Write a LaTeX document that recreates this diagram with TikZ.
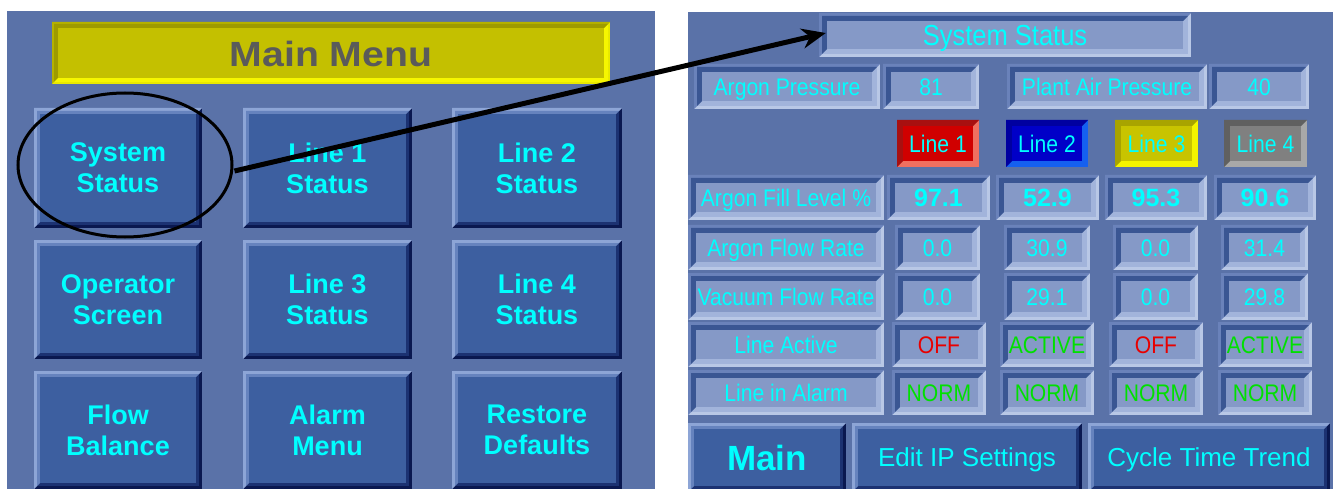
\documentclass[tikz,border=0pt]{standalone}
\usepackage{fontspec}
\setmainfont{Liberation Sans}
\newfontfamily\nrw[FakeStretch=0.88]{Liberation Sans}
\newfontfamily\wde[FakeStretch=1.12]{Liberation Sans}
\usetikzlibrary{shapes.geometric,arrows.meta}
\definecolor{panel}{HTML}{5A72A8}
\definecolor{bf}{HTML}{3D5FA0}
\definecolor{bl1}{HTML}{8DA5D6}
\definecolor{bl2}{HTML}{6683BE}
\definecolor{bd1}{HTML}{0A1850}
\definecolor{bd2}{HTML}{1C3272}
\definecolor{sf}{HTML}{8599C7}
\definecolor{so1}{HTML}{6A82BA}
\definecolor{so2}{HTML}{B9C8E6}
\definecolor{si1}{HTML}{3A5693}
\definecolor{si2}{HTML}{A2B4DB}
\definecolor{yf}{HTML}{C4C000}
\definecolor{yo1}{HTML}{B5B200}
\definecolor{yo2}{HTML}{E8E800}
\definecolor{yi1}{HTML}{9E9B00}
\definecolor{yi2}{HTML}{F6F600}
\definecolor{cyantx}{HTML}{00FFFF}
\definecolor{redtx}{HTML}{E80000}
\definecolor{grntx}{HTML}{00E000}
\definecolor{graytx}{HTML}{5A5A5A}
\definecolor{r1}{HTML}{D00000}\definecolor{r2}{HTML}{A81010}\definecolor{r3}{HTML}{F07060}
\definecolor{u1}{HTML}{0000C8}\definecolor{u2}{HTML}{0000A0}\definecolor{u3}{HTML}{1560F0}
\definecolor{y1}{HTML}{C8C400}\definecolor{y2}{HTML}{A8A400}\definecolor{y3}{HTML}{F4F400}
\definecolor{g1}{HTML}{808080}\definecolor{g2}{HTML}{606060}\definecolor{g3}{HTML}{A8A8A8}
% bevel: x1 y1 x2 y2 width topleft bottomright face
\newcommand\bvl[8]{%
  \fill[#7] ({#1},{#2}) rectangle ({#3},{#4});
  \fill[#6] ({#1},{#2}) -- ({#3},{#2}) -- ({#3-#5},{#2+#5}) -- ({#1+#5},{#2+#5})
     -- ({#1+#5},{#4-#5}) -- ({#1},{#4}) -- cycle;
  \fill[#8] ({#1+#5},{#2+#5}) rectangle ({#3-#5},{#4-#5});}
% raised button: name x1 y1 x2 y2 text style
\newcommand\rais[7]{%
  \bvl{#2}{#3}{#4}{#5}{3}{bl1}{bd1}{bf}%
  \bvl{#2+3}{#3+3}{#4-3}{#5-3}{3}{bl2}{bd2}{bf}%
  \node[#7] (#1) at ({(#2+#4)/2},{(#3+#5)/2}) {#6};}
% sunken box: name x1 y1 x2 y2 text style
\newcommand\sunk[7]{%
  \bvl{#2}{#3}{#4}{#5}{3}{so1}{so2}{sf}%
  \bvl{#2+3}{#3+3}{#4-3}{#5-3}{5}{si1}{si2}{sf}%
  \node[#7] (#1) at ({(#2+#4)/2},{(#3+#5)/2}) {#6};}
% coloured line key: name x1 y1 x2 y2 text face dark light
\newcommand\lkeyb[9]{%
  \bvl{#2}{#3}{#4}{#5}{6}{#8}{#9}{#7}%
  \node[lbl] (#1) at ({(#2+#4)/2},{(#3+#5)/2}) {#6};}
\tikzset{
  lbl/.style={inner sep=0pt, text=cyantx, font=\nrw\fontsize{24}{24}\selectfont,
    text height=17.2pt, text depth=0pt},
  lblr/.style={lbl, text=redtx},
  lblg/.style={lbl, text=grntx},
  ttl/.style={lbl, font=\nrw\fontsize{29}{29}\selectfont, text height=20.8pt},
  valb/.style={inner sep=0pt, text=cyantx, font=\bfseries\fontsize{25}{25}\selectfont,
    text height=18pt, text depth=0pt},
  btn/.style={inner sep=0pt, text=cyantx, align=center,
    font=\bfseries\fontsize{27}{31}\selectfont},
  bot/.style={inner sep=0pt, text=cyantx, font=\fontsize{26}{26}\selectfont,
    text height=18.6pt, text depth=0pt},
  mainb/.style={inner sep=0pt, text=cyantx, font=\bfseries\fontsize{35}{35}\selectfont,
    text height=25pt, text depth=0pt},
  menut/.style={inner sep=0pt, text=graytx, font=\wde\bfseries\fontsize{35}{35}\selectfont,
    text height=25pt, text depth=0pt},
  boxarea/.style={inner sep=0pt, minimum width=372pt, minimum height=44pt},
  mark ring/.style={draw=black, line width=3pt, ellipse, inner sep=0pt},
  pointer/.style={draw=black, line width=5pt, -{Stealth[length=24pt,width=20pt]}}
}
\begin{document}
\begin{tikzpicture}[x=1pt,y=-1pt]
\useasboundingbox (0,0) rectangle (1333,489);
\fill[white] (0,0) rectangle (1333,489);
% ---------------- left panel ----------------
\fill[panel] (7,11) rectangle (655,489);
\bvl{52}{22}{610}{84}{2}{yo1}{yo2}{yf}
\bvl{54}{24}{608}{82}{4}{yi1}{yi2}{yf}
\node[menut] (menu) at (331,54) {Main Menu};
\rais{b11}{34}{108}{202}{228}{System\\Status}{btn}
\rais{b12}{243}{108}{412}{228}{Line 1\\Status}{btn}
\rais{b13}{452}{108}{622}{228}{Line 2\\Status}{btn}
\rais{b21}{34}{240}{202}{359}{Operator\\Screen}{btn}
\rais{b22}{243}{240}{412}{359}{Line 3\\Status}{btn}
\rais{b23}{452}{240}{622}{359}{Line 4\\Status}{btn}
\rais{b31}{34}{371}{202}{489}{Flow\\Balance}{btn}
\rais{b32}{243}{371}{412}{489}{Alarm\\Menu}{btn}
\rais{b33}{452}{371}{622}{489}{Restore\\Defaults}{btn}
% ---------------- right panel ----------------
\fill[panel] (688,12) rectangle (1333,489);
\sunk{sstitle}{819}{13}{1191}{57}{System Status}{ttl}
\node[boxarea] (ssbox) at (1005,35) {};
\sunk{apl}{694}{64}{880}{109}{Argon Pressure}{lbl}
\sunk{apv}{883}{64}{979}{109}{81}{lbl}
\sunk{ppl}{1007}{64}{1207}{109}{Plant Air Pressure}{lbl}
\sunk{ppv}{1209}{64}{1309}{109}{40}{lbl}
\lkeyb{k1}{897}{120}{979}{167}{Line 1}{r1}{r2}{r3}
\lkeyb{k2}{1006}{120}{1088}{167}{Line 2}{u1}{u2}{u3}
\lkeyb{k3}{1115}{120}{1198}{167}{Line 3}{y1}{y2}{y3}
\lkeyb{k4}{1224}{120}{1307}{167}{Line 4}{g1}{g2}{g3}
% fill level
\sunk{fll}{688}{175}{884}{220}{Argon Fill Level \%}{lbl}
\sunk{fl1}{887}{175}{990}{220}{97.1}{valb}
\sunk{fl2}{996}{175}{1099}{220}{52.9}{valb}
\sunk{fl3}{1105}{175}{1207}{220}{95.3}{valb}
\sunk{fl4}{1214}{175}{1316}{220}{90.6}{valb}
% argon flow
\sunk{afl}{688}{225}{884}{270}{Argon Flow Rate}{lbl}
\sunk{af1}{895}{225}{980}{270}{0.0}{lbl}
\sunk{af2}{1004}{225}{1090}{270}{30.9}{lbl}
\sunk{af3}{1113}{225}{1198}{270}{0.0}{lbl}
\sunk{af4}{1221}{225}{1308}{270}{31.4}{lbl}
% vacuum flow
\sunk{vfl}{688}{273}{884}{320}{Vacuum Flow Rate}{lbl}
\sunk{vf1}{895}{273}{980}{320}{0.0}{lbl}
\sunk{vf2}{1004}{273}{1090}{320}{29.1}{lbl}
\sunk{vf3}{1113}{273}{1198}{320}{0.0}{lbl}
\sunk{vf4}{1221}{273}{1308}{320}{29.8}{lbl}
% line active
\sunk{lal}{688}{322}{884}{367}{Line Active}{lbl}
\sunk{la1}{892}{322}{986}{367}{OFF}{lblr}
\sunk{la2}{1000}{322}{1094}{367}{ACTIVE}{lblg}
\sunk{la3}{1109}{322}{1203}{367}{OFF}{lblr}
\sunk{la4}{1218}{322}{1312}{367}{ACTIVE}{lblg}
% line in alarm
\sunk{lml}{688}{370}{884}{415}{Line in Alarm}{lbl}
\sunk{lm1}{892}{370}{986}{415}{NORM}{lblg}
\sunk{lm2}{1000}{370}{1094}{415}{NORM}{lblg}
\sunk{lm3}{1109}{370}{1203}{415}{NORM}{lblg}
\sunk{lm4}{1218}{370}{1312}{415}{NORM}{lblg}
% bottom buttons
\rais{mainbtn}{688}{423}{846}{492}{Main}{mainb}
\rais{editbtn}{852}{423}{1082}{492}{Edit IP Settings}{bot}
\rais{cycbtn}{1088}{423}{1330}{492}{Cycle Time Trend}{bot}
% ---------------- annotation ----------------
\node[mark ring, minimum width=214pt, minimum height=144pt] (circ) at (125,165) {};
\draw[pointer] ([xshift=1pt,yshift=-6pt]circ.east) -- ([xshift=7pt,yshift=2pt]ssbox.west);
\end{tikzpicture}
\end{document}
